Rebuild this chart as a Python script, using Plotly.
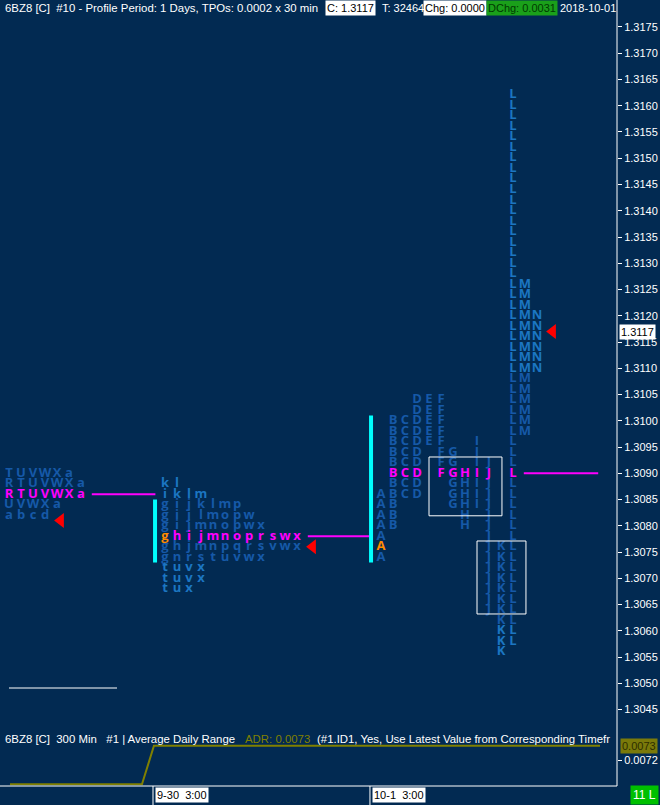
import plotly.graph_objects as go

# ---------------- data ----------------
TICK = 0.0001
ROW = 0.0002

price_tick_vals = [1.3045, 1.3050, 1.3055, 1.3060, 1.3065, 1.3070, 1.3075, 1.3080,
                   1.3085, 1.3090, 1.3095, 1.3100, 1.3105, 1.3110, 1.3115, 1.3120,
                   1.3125, 1.3130, 1.3135, 1.3140, 1.3145, 1.3150, 1.3155, 1.3160,
                   1.3165, 1.3170, 1.3175]
price_tick_text = ["1.3045", "1.3050", "1.3055", "1.3060", "1.3065", "1.3070", "1.3075",
                   "1.3080", "1.3085", "1.3090", "1.3095", "1.3100", "1.3105", "1.3110",
                   "1.3115", "1.3120", "1.3125", "1.3130", "1.3135", "1.3140", "1.3145",
                   "1.3150", "1.3155", "1.3160", "1.3165", "1.3170", "1.3175"]

# Profile 1 (previous session, cut at the left edge) – rows as strings, one char per column
p1_prices = [1.3090, 1.3088, 1.3086, 1.3084, 1.3082]
p1_rows = [" TUVWXa", "QRTUVWXa", "QRTUVWXa", " UVWXa", "Vabcd"]

# Profile 2 (9-30 session) – left aligned rows
p2_prices = [1.3088, 1.3086, 1.3084, 1.3082, 1.3080, 1.3078, 1.3076, 1.3074, 1.3072, 1.3070, 1.3068]
p2_rows = ["kl", "iklm", "gijklmp", "gijlmopw", "gijmnopwx", "ghijmnoprswx",
           "ghjmnpqrsvwx", "gnrstuvwx", "tuvx", "tuvx", "tux"]

# Profile 3 (10-1 session) – one column per period, range of each period
p3_letters = ["A", "B", "C", "D", "E", "F", "G", "H", "I", "J", "K", "L", "M", "N"]
p3_low = [1.3074, 1.3080, 1.3086, 1.3086, 1.3096, 1.3090, 1.3084, 1.3080, 1.3084,
          1.3064, 1.3056, 1.3058, 1.3098, 1.3110]
p3_high = [1.3086, 1.3100, 1.3100, 1.3104, 1.3104, 1.3104, 1.3094, 1.3090, 1.3096,
           1.3092, 1.3076, 1.3162, 1.3126, 1.3120]

poc_prices = [1.3086, 1.3078, 1.3090]
close_prices = [1.3081, 1.3076, 1.3117]
open_prices = [None, 1.3078, 1.3076]
va_low = [None, 1.3073, 1.3073]
va_high = [None, 1.3085, 1.3101]
dark_band_low = [1.3070, 1.3074, 1.3062]
dark_band_high = [1.3100, 1.3084, 1.3108]

# ADR study (lower pane)
adr_cols = [0.08, 11.08, 12.08, 49.25]
adr_values = [0.00703, 0.00703, 0.0073, 0.0073]
adr_last = "0.0073"

time_labels = ["9-30  3:00", "10-1  3:00"]
time_cols = [12.0, 30.08]

# user drawings
rect_col_left = [35.0, 39.0]
rect_col_right = [41.08, 43.08]
rect_price_low = [1.30819, 1.30632]
rect_price_high = [1.30931, 1.30771]
hline_price = 1.30491
hline_cols = [0.0, 9.0]

# ---------------- layout constants ----------------
W, H = 660, 805
ML, MR, MT, MB = 0, 43, 0, 19
PW, PH = W - ML - MR, H - MT - MB
BG = "#022a52"
LIGHT = "#1c76c2"
DARK = "#1659a8"
POC_C = "#ff00ff"
OPEN_C = "#ff8c00"
CYAN = "#00ffff"
OLIVE = "#808000"

p1_first_col = -1
p2_first_col = 13
p3_first_col = 31
profile_end_cols = [12.2, 30.1, 49.1]

main_dom = [0.0814, 1.0]
main_range = [1.304262, 1.318014]
sub_range = [0.007018, 0.007466]
x_range = [-0.75, 50.667]


def tk(p):
    return int(round(p / TICK))


fig = go.Figure()

profiles = []  # list of lists of (col, price, letter)
cells = []
for p, s in zip(p1_prices, p1_rows):
    for i, ch in enumerate(s):
        if ch != " ":
            cells.append((p1_first_col + i, p, ch))
profiles.append(cells)
cells = []
for p, s in zip(p2_prices, p2_rows):
    for i, ch in enumerate(s):
        if ch != " ":
            cells.append((p2_first_col + i, p, ch))
profiles.append(cells)
cells = []
for i, (L, lo, hi) in enumerate(zip(p3_letters, p3_low, p3_high)):
    t = tk(lo)
    while t <= tk(hi):
        cells.append((p3_first_col + i, t * TICK, L))
        t += tk(ROW)
profiles.append(cells)

for k, cells in enumerate(profiles):
    xs, ys, tx, cs = [], [], [], []
    for c, p, ch in cells:
        xs.append(c)
        ys.append(p)
        tx.append(ch)
        if (open_prices[k] is not None and tk(p) == tk(open_prices[k]) and
                c == min(cc for cc, pp, _ in cells if tk(pp) == tk(p))):
            cs.append(OPEN_C)
        elif tk(p) == tk(poc_prices[k]):
            cs.append(POC_C)
        elif tk(dark_band_low[k]) <= tk(p) <= tk(dark_band_high[k]):
            cs.append(DARK)
        else:
            cs.append(LIGHT)
    fig.add_trace(go.Scatter(
        x=xs, y=ys, text=tx, mode="text", textposition="middle center",
        textfont=dict(family="Open Sans", size=13, color=cs, weight="bold"),
        hoverinfo="skip", showlegend=False, cliponaxis=True))

    poc_row_cols = [c for c, p, _ in cells if tk(p) == tk(poc_prices[k])]
    fig.add_trace(go.Scatter(
        x=[max(poc_row_cols) + 0.9, profile_end_cols[k]],
        y=[poc_prices[k], poc_prices[k]], mode="lines",
        line=dict(color=POC_C, width=2), hoverinfo="skip", showlegend=False))

    first_col = [p1_first_col, p2_first_col, p3_first_col][k]
    if va_low[k] is not None:
        fig.add_trace(go.Scatter(
            x=[first_col - 0.83, first_col - 0.83], y=[va_low[k], va_high[k]],
            mode="lines", line=dict(color=CYAN, width=4),
            hoverinfo="skip", showlegend=False))

    near = [c for c, p, _ in cells if abs(tk(p) - tk(close_prices[k])) <= 1]
    fig.add_trace(go.Scatter(
        x=[max(near) + 1.3], y=[close_prices[k]], mode="markers",
        marker=dict(symbol="triangle-left", size=13, color="#ff0000", line=dict(width=0)),
        hoverinfo="skip", showlegend=False, cliponaxis=False))

fig.add_trace(go.Scatter(x=adr_cols, y=adr_values, yaxis="y2", mode="lines",
                         line=dict(color=OLIVE, width=2), hoverinfo="skip", showlegend=False))

shapes = []
for x0, x1, y0, y1 in zip(rect_col_left, rect_col_right, rect_price_low, rect_price_high):
    shapes.append(dict(type="rect", xref="x", yref="y", x0=x0, x1=x1, y0=y0, y1=y1,
                       line=dict(color="white", width=1)))
shapes.append(dict(type="line", xref="x", yref="y", x0=hline_cols[0], x1=hline_cols[1],
                   y0=hline_price, y1=hline_price, line=dict(color="white", width=1)))
shapes.append(dict(type="line", xref="paper", yref="paper", x0=1, x1=1, y0=0, y1=1,
                   line=dict(color="white", width=1)))
shapes.append(dict(type="line", xref="paper", yref="paper", x0=0, x1=1, y0=0, y1=0,
                   line=dict(color="white", width=1)))
for c in time_cols:
    shapes.append(dict(type="line", xref="x", yref="paper", x0=c, x1=c, y0=0, y1=-MB / PH,
                       line=dict(color="white", width=1)))

ann = []
HF = "Liberation Sans"
HS = 11.4


def px_x(px):
    return px / PW


def px_y(py):
    return 1 - py / PH


def hdr(text, px, color="white", bg=None, size=11):
    ann.append(dict(text=text, xref="paper", yref="paper", x=px_x(px), y=px_y(8),
                    xanchor="left", yanchor="middle", showarrow=False,
                    font=dict(family=HF, size=size, color=color),
                    bgcolor=bg if bg else "rgba(0,0,0,0)", borderpad=1))


hdr("6BZ8 [C]  #10 - Profile Period: 1 Days, TPOs: 0.0002 x 30 min", 3, size=HS)
hdr("C: 1.3117", 325, "black", "white")
hdr("T: 32464", 380)
hdr("Chg: 0.0000", 423, "black", "white")
hdr("DChg: 0.0031", 486, "#003a00", "#1aa01a")
hdr("2018-10-01", 558)

for text, px, col in [("6BZ8 [C]  300 Min   #1 | Average Daily Range", 3, "white"),
                      ("ADR: " + adr_last, 243, OLIVE),
                      ("(#1.ID1, Yes, Use Latest Value from Corresponding Timefr", 315, "white")]:
    ann.append(dict(text=text, xref="paper", yref="paper", x=px_x(px), y=px_y(739),
                    xanchor="left", yanchor="middle", showarrow=False,
                    font=dict(family=HF, size=HS, color=col)))

ann.append(dict(text="1.3117", xref="paper", yref="y", x=1, y=close_prices[2], xanchor="left",
                yanchor="middle", xshift=2, showarrow=False, bgcolor="white", borderpad=1,
                font=dict(family=HF, size=11, color="black")))
ann.append(dict(text=adr_last, xref="paper", yref="y2", x=1, y=adr_values[-1], xanchor="left",
                yanchor="middle", xshift=3, showarrow=False, bgcolor="#7a7a0a", borderpad=1,
                font=dict(family=HF, size=11, color="#2e2e00")))
ann.append(dict(text="11 L", xref="paper", yref="paper", x=px_x(630), y=px_y(795),
                xanchor="left", yanchor="middle", showarrow=False, bgcolor="#00c000", borderpad=2,
                font=dict(family=HF, size=12, color="white")))
for t, c in zip(time_labels, time_cols):
    ann.append(dict(text=t, xref="x", yref="paper", x=c, y=px_y(795), xanchor="left",
                    yanchor="middle", xshift=2, showarrow=False, bgcolor="white", borderpad=1,
                    font=dict(family=HF, size=11, color="black")))

fig.update_layout(
    width=W, height=H, margin=dict(l=ML, r=MR, t=MT, b=MB, pad=0),
    paper_bgcolor=BG, plot_bgcolor=BG, showlegend=False, hovermode=False,
    xaxis=dict(range=x_range, visible=False, fixedrange=True),
    yaxis=dict(domain=main_dom, range=main_range, side="right", tickvals=price_tick_vals,
               ticktext=price_tick_text, ticks="outside", ticklen=4, tickcolor="white",
               tickfont=dict(family=HF, size=11, color="white"), showgrid=False,
               zeroline=False, showline=False, fixedrange=True),
    yaxis2=dict(domain=[0, main_dom[0]], range=sub_range, side="right", anchor="x",
                tickvals=[0.0072], ticktext=["0.0072"], ticks="outside", ticklen=4,
                tickcolor="white", tickfont=dict(family=HF, size=11, color="white"),
                showgrid=False, zeroline=False, showline=False, fixedrange=True),
    shapes=shapes, annotations=ann,
)

fig.write_html("out.html", config={"displayModeBar": False},
               post_script="document.body.style.margin='0';"
                           "document.body.style.background='" + BG + "';")
